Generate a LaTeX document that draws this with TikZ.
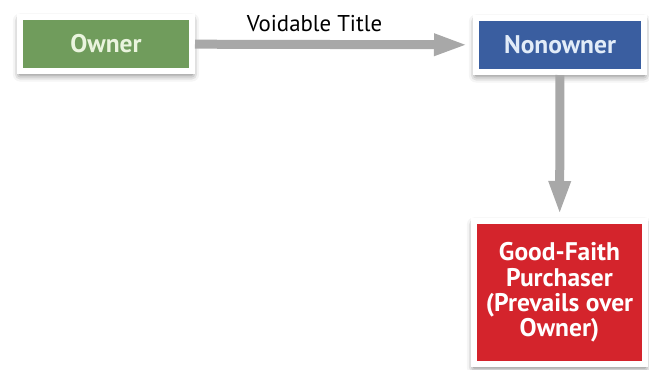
\documentclass[tikz,border=0pt]{standalone}
\usepackage{fontspec}
\setmainfont{PT Sans}
\usetikzlibrary{arrows.meta,shadows.blur}
\definecolor{ownergreen}{RGB}{112,156,92}
\definecolor{nonblue}{RGB}{58,94,160}
\definecolor{buyerred}{RGB}{212,36,44}
\definecolor{arrowgray}{RGB}{168,168,168}
\tikzset{
  party/.style={draw=white,line width=0.12cm,align=center,inner sep=0pt,
    font=\bfseries\fontsize{14.5}{14.4}\selectfont,
    blur shadow={shadow xshift=0pt,shadow yshift=-2pt,shadow blur radius=4pt,shadow opacity=60}},
  flow/.style={draw=arrowgray,line width=0.18cm,-{Triangle[width=0.4cm,length=0.68cm]}}
}
\begin{document}
\begin{tikzpicture}
\useasboundingbox(0,0) rectangle (12.98,-7.38);
\node[party,fill=ownergreen,text={rgb,255:red,234;green,244;blue,222},minimum width=3.44cm,minimum height=1.08cm](owner) at (2.12,-0.88){Owner};
\node[party,fill=nonblue,text={rgb,255:red,226;green,236;blue,248},minimum width=3.36cm,minimum height=1.08cm](nonowner) at (11.2,-0.9){Nonowner};
\node[party,fill=buyerred,text=white,minimum width=3.42cm,minimum height=2.86cm](buyer) at (11.19,-5.85){Good-Faith\\Purchaser\\(Prevails over\\Owner)};
\draw[flow,shorten >=0.1cm](owner)--(nonowner)node[pos=0.43,above=0.16cm,inner sep=0pt,font=\fontsize{13}{14}\selectfont]{Voidable Title};
\draw[flow,shorten >=0.06cm](nonowner)--(buyer);
\end{tikzpicture}
\end{document}
